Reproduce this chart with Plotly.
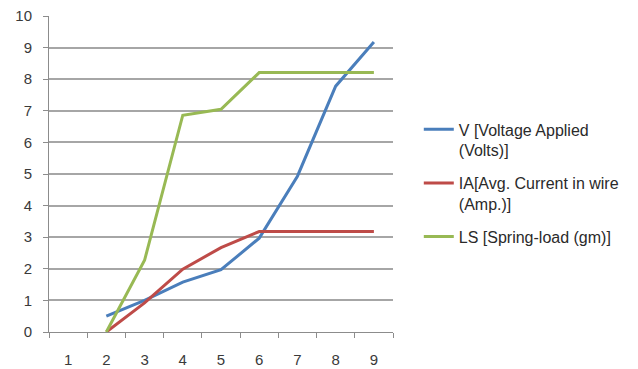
import plotly.graph_objects as go

# Category labels on the x axis
categories = ["1", "2", "3", "4", "5", "6", "7", "8", "9"]
x_points = ["2", "3", "4", "5", "6", "7", "8", "9"]

# Measured series
voltage = [0.5, 1.0, 1.58, 1.97, 2.97, 4.93, 7.78, 9.18]
current = [0.0, 0.92, 1.99, 2.67, 3.18, 3.18, 3.18, 3.18]
spring_load = [0.0, 2.27, 6.86, 7.05, 8.21, 8.21, 8.21, 8.21]

names = [
    "V [Voltage Applied<br>(Volts)]",
    "IA[Avg. Current in wire<br>(Amp.)]",
    "LS [Spring-load (gm)]",
]
colors = ["#4A7EBB", "#BE4B48", "#98B954"]

fig = go.Figure()
for i, (name, ys, color) in enumerate(zip(names, [voltage, current, spring_load], colors)):
    fig.add_trace(go.Scatter(
        x=x_points, y=ys, mode="lines", name=name, legendgroup=f"g{i}",
        line=dict(color=color, width=3),
    ))

family = "Liberation Sans, Arial, sans-serif"
tick_font = dict(family=family, size=15, color="#3a3a3a")

fig.update_layout(
    width=638, height=369,
    margin=dict(l=49, r=245, t=16, b=37, autoexpand=False),
    paper_bgcolor="white", plot_bgcolor="white",
    font=dict(family=family, size=15, color="#3a3a3a"),
    showlegend=True,
    legend=dict(
        x=1.075, y=0.695, xanchor="left", yanchor="top",
        valign="top", tracegroupgap=9,
        font=dict(family=family, size=16, color="#2a2a2a"),
        itemwidth=30,
    ),
    xaxis=dict(
        type="category", categoryorder="array", categoryarray=categories,
        range=[-0.5, 8.5], tickson="boundaries",
        ticks="outside", ticklen=5, tickcolor="#8c8c8c",
        ticklabelstandoff=14,
        showgrid=False, showline=True, linecolor="#8c8c8c", linewidth=1,
        tickfont=tick_font,
        fixedrange=True,
    ),
    yaxis=dict(
        range=[0, 10], dtick=1, tick0=0,
        ticks="outside", ticklen=5, tickcolor="#8c8c8c",
        ticklabelstandoff=8,
        showgrid=True, gridcolor="#a6a6a6", gridwidth=1.5,
        showline=True, linecolor="#8c8c8c", linewidth=1,
        zeroline=False,
        tickfont=tick_font,
        fixedrange=True,
    ),
)

fig.write_html("out.html")
